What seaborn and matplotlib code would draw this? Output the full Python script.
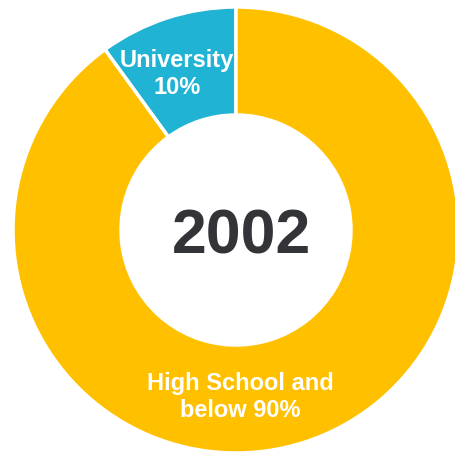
import matplotlib
matplotlib.use("Agg")
import matplotlib.pyplot as plt
import seaborn as sns

categories = ["University", "High School and\nbelow"]
values = [10, 90]
colors = ["#21B3D3", "#FFC000"]
year = "2002"

sns.set_theme(style="white")
plt.rcParams['font.family'] = ['Liberation Sans', 'DejaVu Sans']

fig = plt.figure(figsize=(4.56, 4.53), dpi=100)
ax = fig.add_axes([0, 0, 1, 1])
R = 223
ax.pie(values, colors=colors, startangle=90, counterclock=True, radius=R,
       wedgeprops=dict(width=R - 115, edgecolor="white", linewidth=2.5))
ax.set_xlim(-236, 220)
ax.set_ylim(-223, 230)
ax.set_aspect("equal")
ax.axis("off")

ax.text(6, -7, year, ha="center", va="center", fontsize=45, fontweight="bold", color="#333438")
ax.text(-59, 156, f"University\n{values[0]}%", ha="center", va="center", fontsize=17,
        fontweight="bold", color="white", linespacing=1.25)
ax.text(4, -167, f"High School and\nbelow {values[1]}%", ha="center", va="center", fontsize=17,
        fontweight="bold", color="white", linespacing=1.2)

fig.savefig("out.png", dpi=100)
